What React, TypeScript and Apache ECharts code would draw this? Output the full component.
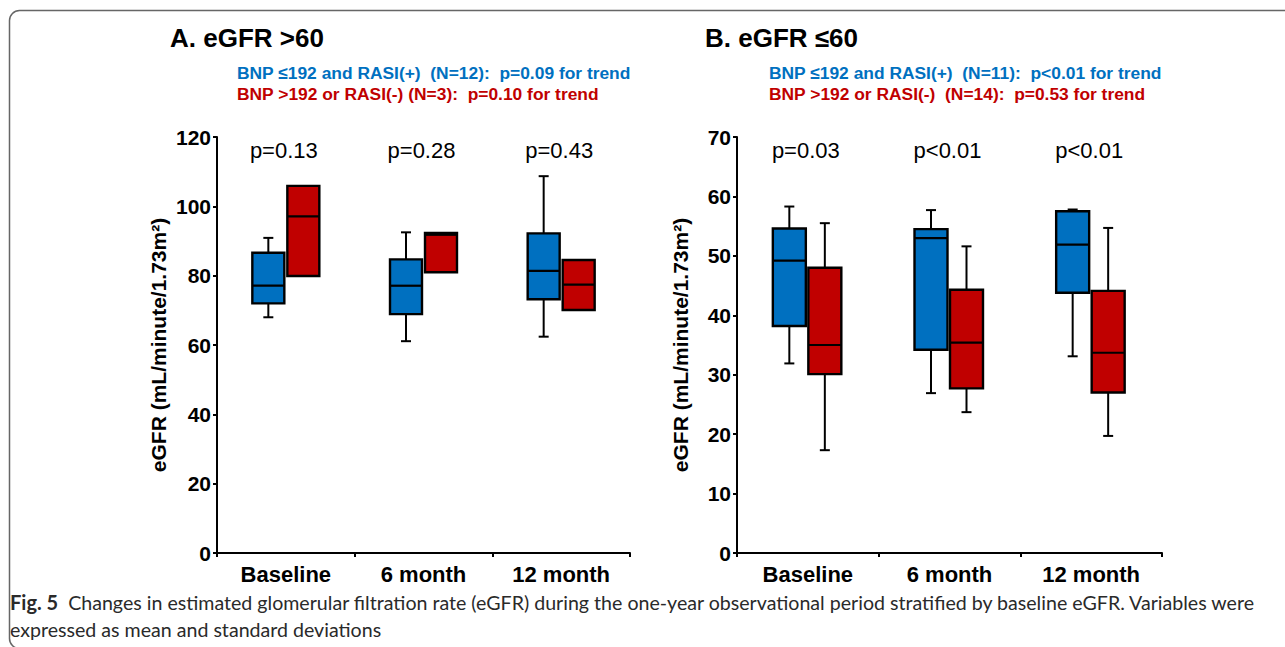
import React, { useEffect, useRef } from "react";
import * as echarts from "echarts";

const categories = ["Baseline", "6 month", "12 month"];
// each row: [min, Q1, median, Q3, max]
const panelABlue = [
  [68.0, 72.0, 77.1, 86.6, 90.9],
  [61.1, 68.9, 77.1, 84.7, 92.5],
  [62.4, 73.2, 81.4, 92.2, 108.7],
];
const panelARed = [
  [79.9, 79.9, 97.1, 105.9, 105.9],
  [81.0, 81.0, 91.8, 92.3, 92.3],
  [70.1, 70.1, 77.4, 84.5, 84.5],
];
const panelBBlue = [
  [31.9, 38.2, 49.2, 54.6, 58.3],
  [26.9, 34.2, 53.0, 54.5, 57.7],
  [33.1, 43.8, 51.9, 57.5, 57.8],
];
const panelBRed = [
  [17.3, 30.1, 35.0, 48.0, 55.5],
  [23.7, 27.7, 35.4, 44.3, 51.6],
  [19.7, 27.0, 33.7, 44.1, 54.7],
];
const pLabelsA = ["p=0.13", "p=0.28", "p=0.43"];
const pLabelsB = ["p=0.03", "p<0.01", "p<0.01"];
const axisA = { min: 0, max: 120, interval: 20 };
const axisB = { min: 0, max: 70, interval: 10 };
const titleA = "A. eGFR >60";
const titleB = "B. eGFR \u226460";
const legendA = [
  "BNP \u2264192 and RASI(+)  (N=12):  p=0.09 for trend",
  "BNP >192 or RASI(-) (N=3):  p=0.10 for trend",
];
const legendB = [
  "BNP \u2264192 and RASI(+)  (N=11):  p<0.01 for trend",
  "BNP >192 or RASI(-)  (N=14):  p=0.53 for trend",
];
const yAxisName = "eGFR (mL/minute/1.73m\u00b2)";
const captionBold = "Fig. 5";
const captionLine1 =
  "Changes in estimated glomerular filtration rate (eGFR) during the one-year observational period stratified by baseline eGFR. Variables were";
const captionLine2 = "expressed as mean and standard deviations";

const BLUE = "#0070C0";
const RED = "#C00000";
const FONT = '"Liberation Sans", Arial, sans-serif';

function boxRenderer(offset: number, halfW: number, fill: string) {
  return (params: any, api: any) => {
    const cat = api.value(0);
    const pt = (v: number) => api.coord([cat, v]);
    const xc = pt(api.value(3))[0] + offset;
    const yMin = pt(api.value(1))[1];
    const yQ1 = pt(api.value(2))[1];
    const yMed = pt(api.value(3))[1];
    const yQ3 = pt(api.value(4))[1];
    const yMax = pt(api.value(5))[1];
    const cw = 5;
    const line = (x1: number, y1: number, x2: number, y2: number, w = 2) => ({
      type: "line",
      shape: { x1, y1, x2, y2 },
      style: { stroke: "#000", lineWidth: w },
    });
    const children: any[] = [];
    if (yMax < yQ3 - 0.5) {
      children.push(line(xc, yQ3, xc, yMax), line(xc - cw, yMax, xc + cw, yMax));
    }
    if (yMin > yQ1 + 0.5) {
      children.push(line(xc, yQ1, xc, yMin), line(xc - cw, yMin, xc + cw, yMin));
    }
    children.push({
      type: "rect",
      shape: { x: xc - halfW, y: yQ3, width: halfW * 2, height: yQ1 - yQ3 },
      style: { fill, stroke: "#000", lineWidth: 2.4 },
    });
    children.push(line(xc - halfW, yMed, xc + halfW, yMed, 2.2));
    return { type: "group", children };
  };
}

function pLabelRenderer(labels: string[]) {
  return (params: any, api: any) => {
    const c = api.coord([api.value(0), api.value(1)]);
    return {
      type: "text",
      x: c[0] - 2,
      y: c[1] + 13,
      style: {
        text: labels[params.dataIndex],
        fill: "#000",
        font: `22px ${FONT}`,
        align: "center",
        verticalAlign: "middle",
      },
    };
  };
}

function makeAxes(gridIndex: number, ax: { min: number; max: number; interval: number }, nameGap: number) {
  const xAxis = {
    type: "category",
    gridIndex,
    data: categories,
    axisLine: { show: true, lineStyle: { color: "#000", width: 2 } },
    axisTick: { show: true, length: 4, lineStyle: { color: "#000", width: 2 } },
    axisLabel: { color: "#000", fontSize: 22, fontWeight: "bold", fontFamily: FONT, margin: 10 },
    splitLine: { show: false },
  };
  const yAxis = {
    type: "value",
    gridIndex,
    min: ax.min,
    max: ax.max,
    interval: ax.interval,
    name: yAxisName,
    nameLocation: "middle",
    nameRotate: 90,
    nameGap,
    nameTextStyle: { color: "#000", fontSize: 21, fontWeight: "bold", fontFamily: FONT },
    axisLine: { show: true, lineStyle: { color: "#000", width: 2 } },
    axisTick: { show: true, length: 4, lineStyle: { color: "#000", width: 2 } },
    axisLabel: { color: "#000", fontSize: 21, fontWeight: "bold", fontFamily: FONT, margin: 6 },
    splitLine: { show: false },
  };
  return { xAxis, yAxis };
}

function boxSeries(idx: number, rows: number[][], offset: number, halfW: number, fill: string) {
  return {
    type: "custom",
    xAxisIndex: idx,
    yAxisIndex: idx,
    renderItem: boxRenderer(offset, halfW, fill),
    encode: { x: 0, y: [1, 2, 3, 4, 5] },
    data: rows.map((r, i) => [i, ...r]),
    silent: true,
  };
}

export default function App() {
  const ref = useRef<HTMLDivElement>(null);
  useEffect(() => {
    document.body.style.margin = "0";
    const chart = echarts.init(ref.current!, null, { renderer: "svg" });
    const a = makeAxes(0, axisA, 48);
    const b = makeAxes(1, axisB, 46);
    const legendText = (x: number, y: number, text: string, color: string) => ({
      type: "text",
      x,
      y,
      style: { text, fill: color, font: `bold 17.4px ${FONT}`, align: "left", verticalAlign: "middle" },
    });
    chart.setOption({
      animation: false,
      backgroundColor: "#fff",
      grid: [
        { left: 217, top: 137, width: 413, height: 416 },
        { left: 737, top: 137, width: 425, height: 416 },
      ],
      xAxis: [a.xAxis, b.xAxis],
      yAxis: [a.yAxis, b.yAxis],
      series: [
        boxSeries(0, panelABlue, -17.5, 16, BLUE),
        boxSeries(0, panelARed, 17.5, 16, RED),
        boxSeries(1, panelBBlue, -18.5, 16.5, BLUE),
        boxSeries(1, panelBRed, 17, 16.5, RED),
        {
          type: "custom",
          xAxisIndex: 0,
          yAxisIndex: 0,
          renderItem: pLabelRenderer(pLabelsA),
          data: pLabelsA.map((_, i) => [i, axisA.max]),
          silent: true,
        },
        {
          type: "custom",
          xAxisIndex: 1,
          yAxisIndex: 1,
          renderItem: pLabelRenderer(pLabelsB),
          data: pLabelsB.map((_, i) => [i, axisB.max]),
          silent: true,
        },
      ],
      graphic: [
        {
          type: "rect",
          shape: { x: 9.5, y: 10.5, width: 1300, height: 638, r: 10 },
          style: { fill: "none", stroke: "#666", lineWidth: 1.5 },
          silent: true,
        },
        {
          type: "text",
          x: 170,
          y: 38,
          style: { text: titleA, fill: "#000", font: `bold 26px ${FONT}`, align: "left", verticalAlign: "middle" },
        },
        {
          type: "text",
          x: 705,
          y: 38,
          style: { text: titleB, fill: "#000", font: `bold 26px ${FONT}`, align: "left", verticalAlign: "middle" },
        },
        legendText(237, 73, legendA[0], BLUE),
        legendText(237, 94, legendA[1], RED),
        legendText(769, 73, legendB[0], BLUE),
        legendText(769, 94, legendB[1], RED),
        {
          type: "text",
          x: 10,
          y: 602,
          style: {
            text: `{b|${captionBold}}  ${captionLine1}`,
            fill: "#2a2a2a",
            font: `19.6px Lato, sans-serif`,
            verticalAlign: "middle",
            rich: { b: { fontWeight: "bold", fontSize: 20, fontFamily: "Lato", fill: "#2a2a2a" } },
          },
        },
        {
          type: "text",
          x: 10,
          y: 629,
          style: { text: captionLine2, fill: "#2a2a2a", font: `19.6px Lato, sans-serif`, verticalAlign: "middle" },
        },
      ],
    });
    return () => chart.dispose();
  }, []);
  return (
    <div
      ref={ref}
      style={{ position: "fixed", left: 0, top: 0, width: 1285, height: 647 }}
    />
  );
}
